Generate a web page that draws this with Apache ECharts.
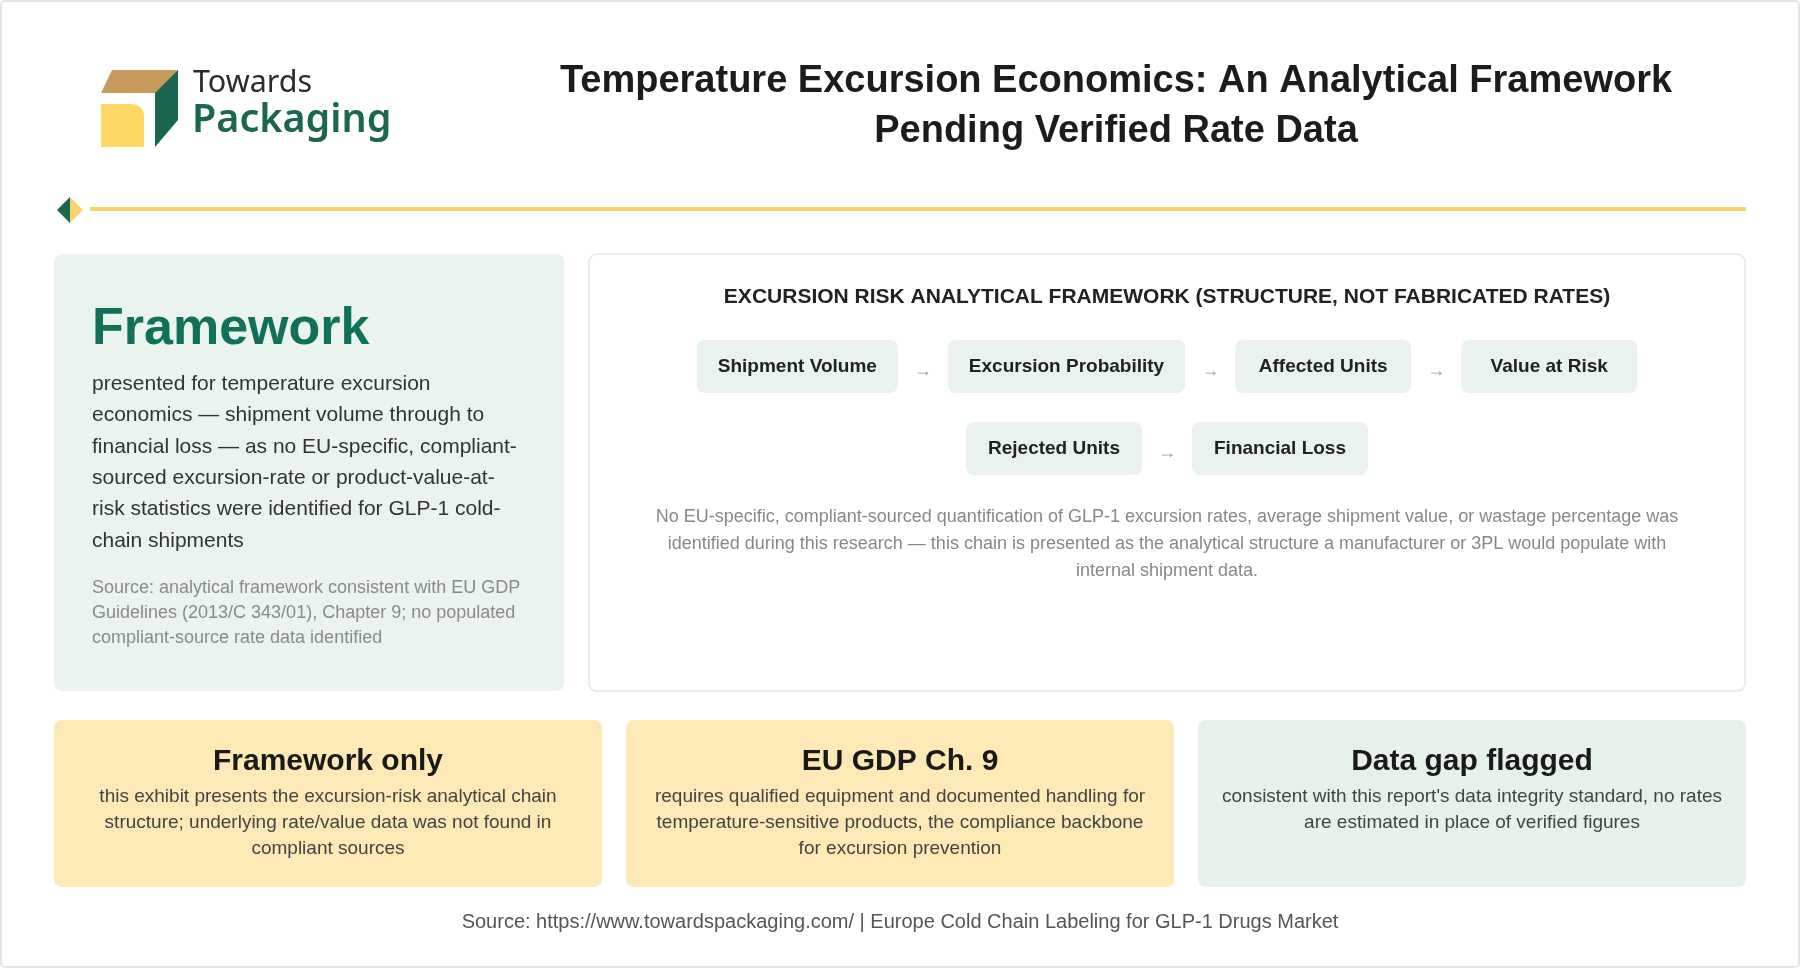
<!DOCTYPE html>
<html><head><meta charset="utf-8">
<script src="https://cdn.jsdelivr.net/npm/echarts@6/dist/echarts.min.js"></script>
<style>html,body{margin:0;padding:0;background:#fff}#c{width:1800px;height:968px}</style>
</head><body><div id="c"></div>
<script>
// ---- content ----
const titleLines = ['Temperature Excursion Economics: An Analytical Framework', 'Pending Verified Rate Data'];
const logoWords = ['Towards', 'Packaging'];
const heroWord = 'Framework';
const heroLines = [
  'presented for temperature excursion',
  'economics \u2014 shipment volume through to',
  'financial loss \u2014 as no EU-specific, compliant-',
  'sourced excursion-rate or product-value-at-',
  'risk statistics were identified for GLP-1 cold-',
  'chain shipments'
];
const heroSource = [
  'Source: analytical framework consistent with EU GDP',
  'Guidelines (2013/C 343/01), Chapter 9; no populated',
  'compliant-source rate data identified'
];
const panelTitle = 'EXCURSION RISK ANALYTICAL FRAMEWORK (STRUCTURE, NOT FABRICATED RATES)';
const chainRow1 = ['Shipment Volume', 'Excursion Probability', 'Affected Units', 'Value at Risk'];
const chainRow2 = ['Rejected Units', 'Financial Loss'];
const noteLines = [
  'No EU-specific, compliant-sourced quantification of GLP-1 excursion rates, average shipment value, or wastage percentage was',
  'identified during this research \u2014 this chain is presented as the analytical structure a manufacturer or 3PL would populate with',
  'internal shipment data.'
];
const cardTitles = ['Framework only', 'EU GDP Ch. 9', 'Data gap flagged'];
const cardBodies = [
  ['this exhibit presents the excursion-risk analytical chain', 'structure; underlying rate/value data was not found in', 'compliant sources'],
  ['requires qualified equipment and documented handling for', 'temperature-sensitive products, the compliance backbone', 'for excursion prevention'],
  ['consistent with this report\'s data integrity standard, no rates', 'are estimated in place of verified figures']
];
const footerText = 'Source: https://www.towardspackaging.com/ | Europe Cold Chain Labeling for GLP-1 Drugs Market';

// ---- styling / layout ----
const FF = '"Liberation Sans", Arial, sans-serif';
const GREEN = '#1a6650';
const HERO_GREEN = '#0f7159';
const YELLOW = '#f7d469';
const mc = document.createElement('canvas').getContext('2d');
function tw(font, s) { mc.font = font; return mc.measureText(s).width; }

function txt(x, y, s, font, fill, align, va) {
  return { type: 'text', x: x, y: y, silent: true,
    style: { text: s, font: font, fill: fill, align: align || 'left', verticalAlign: va || 'middle',
             textAlign: align || 'left', textVerticalAlign: va || 'middle' } };
}
function rect(x, y, w, h, r, fill, stroke) {
  return { type: 'rect', shape: { x: x, y: y, width: w, height: h, r: r },
    style: { fill: fill, stroke: stroke || null, lineWidth: stroke ? 1.5 : 0 } };
}

const els = [];
// page border
els.push(rect(1, 1, 1798, 966, 4, '#ffffff', '#dcdcdc'));

// logo
els.push({ type: 'polygon', shape: { points: [[112, 70], [178, 70], [157, 93], [101, 93]] }, style: { fill: '#c8995d' } });
els.push({ type: 'polygon', shape: { points: [[178, 70], [178, 120], [155, 147], [155, 93]] }, style: { fill: GREEN } });
els.push({ type: 'rect', shape: { x: 101, y: 104, width: 43, height: 43, r: [0, 12, 0, 0] }, style: { fill: '#fcd766' } });
els.push(txt(193, 83, logoWords[0], '400 30.5px "Noto Sans", sans-serif', '#2b2b2b'));
els.push(txt(192, 121, logoWords[1], '600 39.5px "Noto Sans", sans-serif', GREEN));

// title
titleLines.forEach((s, i) => els.push(txt(1116, 82 + i * 50, s, 'bold 38px ' + FF, '#1c1c1c', 'center')));

// divider
els.push({ type: 'polygon', shape: { points: [[70, 197], [70, 223], [57, 210]] }, style: { fill: GREEN } });
els.push({ type: 'polygon', shape: { points: [[70, 197], [83, 210], [70, 223]] }, style: { fill: YELLOW } });
els.push(rect(90, 207, 1656, 4, 0, YELLOW));

// left hero panel
els.push(rect(54, 254, 510, 437, 8, '#eaf3ee'));
els.push(txt(92, 330, heroWord, 'bold 52px ' + FF, HERO_GREEN));
heroLines.forEach((s, i) => els.push(txt(92, 384 + i * 31.4, s, '21px ' + FF, '#333333')));
heroSource.forEach((s, i) => els.push(txt(92, 588 + i * 25, s, '18px ' + FF, '#8a8a8a')));

// right panel
els.push(rect(589, 254, 1156, 437, 8, '#ffffff', '#e6e6e6'));
const PCX = 1167;
els.push(txt(PCX, 297, panelTitle, 'bold 21px ' + FF, '#222222', 'center'));

const BOXF = 'bold 19px ' + FF, PADX = 21, GAP = 50, BH = 53, MINW = 176;
function chainRow(items, y) {
  const ws = items.map(s => Math.max(MINW, tw(BOXF, s) + PADX * 2));
  const total = ws.reduce((a, b) => a + b, 0) + GAP * (items.length - 1);
  let x = PCX - total / 2;
  items.forEach((s, i) => {
    els.push(rect(x, y, ws[i], BH, 8, '#eaf2ed'));
    els.push(txt(x + ws[i] / 2, y + BH / 2, s, BOXF, '#222222', 'center'));
    x += ws[i];
    if (i < items.length - 1) {
      els.push(txt(x + GAP / 2, y + BH / 2 + 5, '\u2192', '18px ' + FF, '#9a9a9a', 'center'));
      x += GAP;
    }
  });
}
chainRow(chainRow1, 340);
chainRow(chainRow2, 422);
noteLines.forEach((s, i) => els.push(txt(PCX, 517 + i * 27, s, '18px ' + FF, '#888888', 'center')));

// bottom cards
const cardX = [54, 626, 1198], CW = 548;
const cardFill = ['#fde9b5', '#fde9b5', '#e6f1ea'];
cardTitles.forEach((t, i) => {
  els.push(rect(cardX[i], 720, CW, 167, 8, cardFill[i]));
  els.push(txt(cardX[i] + CW / 2, 762, t, 'bold 30px ' + FF, '#1a1a1a', 'center'));
  cardBodies[i].forEach((s, j) => els.push(txt(cardX[i] + CW / 2, 797 + j * 26, s, '19px ' + FF, '#444444', 'center')));
});

// footer
els.push(txt(900, 922, footerText, '20px ' + FF, '#555555', 'center'));

const chart = echarts.init(document.getElementById('c'), null, { renderer: 'canvas' });
chart.setOption({ backgroundColor: '#ffffff', animation: false, graphic: { elements: els } });
</script></body></html>
